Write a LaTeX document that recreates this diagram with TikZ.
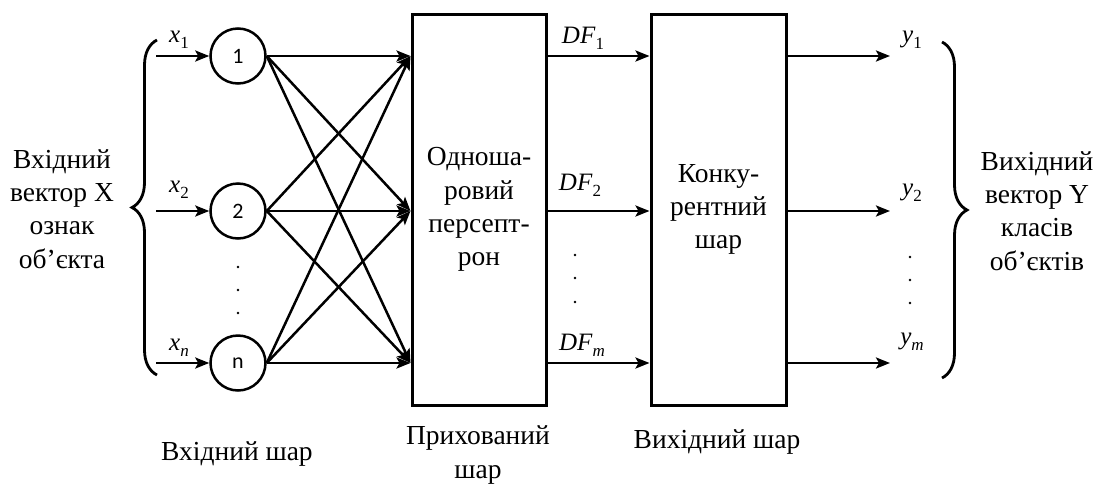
\documentclass[tikz,border=0pt]{standalone}
\usepackage{fontspec}
\setmainfont{Liberation Serif}
\newfontfamily\rmcyr{Liberation Serif}
\newfontfamily\numfont{Carlito}
\usetikzlibrary{arrows.meta,decorations.pathreplacing}
\newcommand\sublbl[2]{\textit{#1}\raisebox{-0.24em}{\fontsize{17}{17}\selectfont #2}}

\begin{document}
\begin{tikzpicture}[x=1pt,y=-1pt,
  line width=2.5pt,
  txt/.style={font=\rmcyr\fontsize{27.5}{33.3}\selectfont, align=center, inner sep=0pt},
  lab/.style={font=\rmcyr\fontsize{25}{28}\selectfont, inner sep=0pt},
  neuron/.style={draw, circle, minimum size=55pt, inner sep=0pt, line width=2.5pt, font=\numfont\fontsize{22}{24}\selectfont},
  layerbox/.style={draw, rectangle, line width=3pt, minimum width=134pt, minimum height=391pt, inner sep=0pt, font=\rmcyr\fontsize{27.5}{33.3}\selectfont, align=center},
  arr/.style={-{Stealth[length=14pt,width=11pt,inset=3pt]}, line width=2.5pt},
  brc/.style={decorate, decoration={brace, amplitude=25pt}, line width=2.8pt},
  vdot/.style={circle, fill, inner sep=0pt, minimum size=2.6pt}
]
\useasboundingbox (0,0) rectangle (1099,485);

% input neurons
\node[neuron] (n1) at (238,56) {1};
\node[neuron] (n2) at (238,211) {2};
\node[neuron] (nn) at (238,363) {n};

% layer boxes
\node[layerbox] (p) at (479,209.5) {Одноша-\\ровий\\персепт-\\рон};
\node[layerbox, minimum width=135pt] (k) at (718.5,209.5) {Конку-\\рентний\\шар};

% input arrow starts
\coordinate (i1) at (156,56);
\coordinate (i2) at (156,211);
\coordinate (i3) at (156,363);
\draw[arr] (i1) -- (n1.west);
\draw[arr] (i2) -- (n2.west);
\draw[arr] (i3) -- (nn.west);

% targets on perceptron box
\coordinate (t1) at (p.west |- n1);
\coordinate (t2) at (p.west |- n2);
\coordinate (t3) at (p.west |- nn);
\foreach \s in {n1,n2,nn}{
  \foreach \t in {t1,t2,t3}{
    \draw[arr] (\s.east) -- (\t);
  }
}

% DF arrows
\coordinate (d1) at (p.east |- n1);
\coordinate (d2) at (p.east |- n2);
\coordinate (d3) at (p.east |- nn);
\coordinate (e1) at (k.west |- n1);
\coordinate (e2) at (k.west |- n2);
\coordinate (e3) at (k.west |- nn);
\draw[arr] (d1) -- (e1);
\draw[arr] (d2) -- (e2);
\draw[arr] (d3) -- (e3);

% output arrows
\coordinate (f1) at (k.east |- n1);
\coordinate (f2) at (k.east |- n2);
\coordinate (f3) at (k.east |- nn);
\coordinate (o1) at (890,56);
\coordinate (o2) at (890,211);
\coordinate (o3) at (890,363);
\draw[arr] (f1) -- (o1);
\draw[arr] (f2) -- (o2);
\draw[arr] (f3) -- (o3);

% braces
\coordinate (lb1) at (157,375);
\coordinate (lb2) at (157,40);
\coordinate (rb1) at (942,42);
\coordinate (rb2) at (942,378);
\draw[brc] (lb1) -- (lb2);
\draw[brc] (rb1) -- (rb2);

% labels
\node[lab] (lx1) at (179,40) {\sublbl{x}{1}};
\node[lab] (lx2) at (179,190) {\sublbl{x}{2}};
\node[lab] (lxn) at (179,348) {\sublbl{x}{\textit{n}}};
\node[lab] (ldf1) at (583,38) {\sublbl{DF}{1}};
\node[lab] (ldf2) at (580,185) {\sublbl{DF}{2}};
\node[lab] (ldfm) at (582,345) {\sublbl{DF}{\textit{m}}};
\node[lab] (ly1) at (912,40) {\sublbl{y}{1}};
\node[lab] (ly2) at (912,193) {\sublbl{y}{2}};
\node[lab] (lym) at (912,342) {\sublbl{y}{\textit{m}}};

% dots
\node[vdot] (a1) at (238,267) {};
\node[vdot] (a2) at (238,290) {};
\node[vdot] (a3) at (238,313) {};
\node[vdot] (b1) at (575,255) {};
\node[vdot] (b2) at (575,278) {};
\node[vdot] (b3) at (575,302) {};
\node[vdot] (c1) at (910,257) {};
\node[vdot] (c2) at (910,280) {};
\node[vdot] (c3) at (910,303) {};

% side texts
\node[txt] (lt) at (62,209) {Вхідний\\вектор Х\\ознак\\об’єкта};
\node[txt] (rt) at (1037,211) {Вихідний\\вектор Y\\класів\\об’єктів};

% bottom texts
\node[txt, anchor=base] (bl1) at (237,460) {Вхідний шар};
\node[txt] (bl2) at (478,455) {Прихований\\шар};
\node[txt, anchor=base] (bl3) at (717,448) {Вихідний шар};
\end{tikzpicture}
\end{document}
